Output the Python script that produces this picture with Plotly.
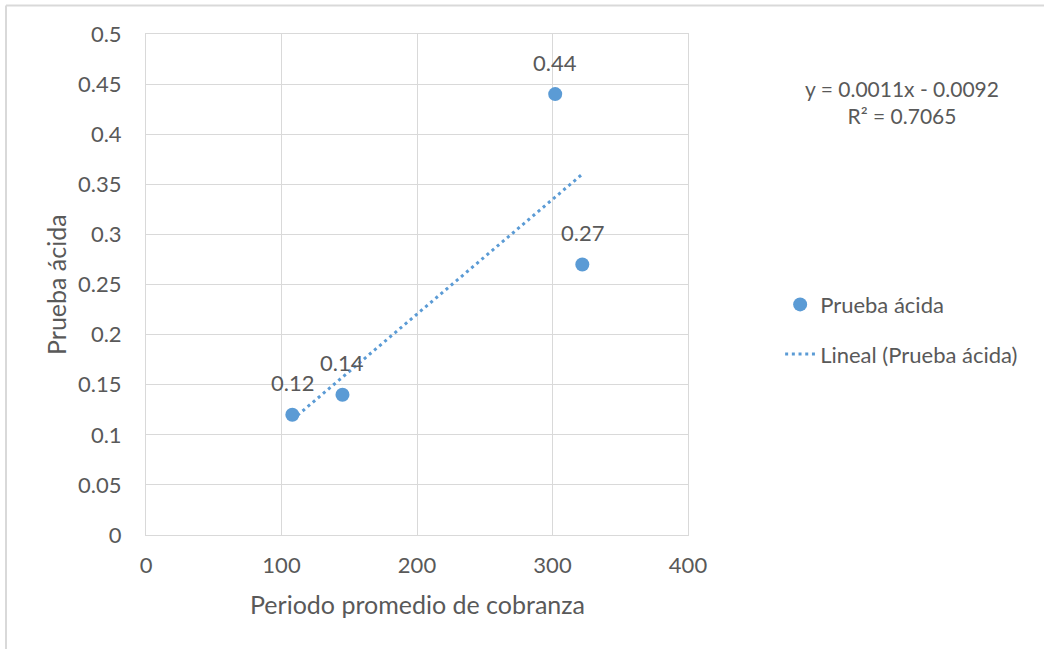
import numpy as np
import plotly.graph_objects as go

# Data: average collection period vs. acid-test ratio
periodo = [108, 145, 302, 322]
prueba_acida = [0.12, 0.14, 0.44, 0.27]
etiquetas = ["0.12", "0.14", "0.44", "0.27"]
x_ticks = [0, 100, 200, 300, 400]
y_ticks = [0, 0.05, 0.1, 0.15, 0.2, 0.25, 0.3, 0.35, 0.4, 0.45, 0.5]
ecuacion = "y = 0.0011x - 0.0092<br>R² = 0.7065"

BLUE = "#5B9BD5"
TEXT = "#595959"
GRID = "#D9D9D9"
FONT = "Lato"

# Linear trendline fitted over the data range
pend, inter = np.polyfit(periodo, prueba_acida, 1)
x_fit = np.array([min(periodo), max(periodo)])
y_fit = pend * x_fit + inter

fig = go.Figure()
fig.add_trace(go.Scatter(
    x=periodo, y=prueba_acida, mode="markers", name="Prueba ácida",
    marker=dict(color=BLUE, size=14), legendgroup="a", cliponaxis=False,
))
fig.add_trace(go.Scatter(
    x=x_fit, y=y_fit, mode="lines", name="Lineal (Prueba ácida)",
    line=dict(color=BLUE, width=3, dash="3px,3.7px"), legendgroup="b",
))

# Value labels above each point
for xv, yv, t in zip(periodo, prueba_acida, etiquetas):
    fig.add_annotation(x=xv, y=yv, text=t, showarrow=False, yshift=32,
                       xanchor="center", yanchor="middle",
                       font=dict(family=FONT, size=22, color=TEXT))

# Trendline equation
fig.add_annotation(xref="paper", yref="paper", x=1.395, y=0.8633,
                   xanchor="center", yanchor="middle",
                   text=ecuacion, showarrow=False, align="center",
                   font=dict(family=FONT, size=21, color=TEXT))

# Axis titles
fig.add_annotation(xref="paper", yref="paper", x=0.5, y=-0.138,
                   xanchor="center", yanchor="middle",
                   text="Periodo promedio de cobranza", showarrow=False,
                   font=dict(family=FONT, size=25, color=TEXT))
fig.add_annotation(xref="paper", yref="paper", x=-0.167, y=0.5,
                   xanchor="center", yanchor="middle",
                   text="Prueba ácida", showarrow=False, textangle=-90,
                   font=dict(family=FONT, size=25, color=TEXT))

# Chart frame (left and top edges)
fig.add_shape(type="line", xref="paper", yref="paper",
              x0=-0.2583, x1=-0.2583, y0=1.0569, y1=-0.3,
              line=dict(color=GRID, width=2))
fig.add_shape(type="line", xref="paper", yref="paper",
              x0=-0.2583, x1=1.7, y0=1.0569, y1=1.0569,
              line=dict(color=GRID, width=2))

axis_common = dict(
    showgrid=True, gridcolor=GRID, gridwidth=1,
    showline=True, linecolor=GRID, linewidth=1, mirror=True,
    zeroline=False, ticks="",
    tickfont=dict(family=FONT, size=22, color=TEXT),
)

fig.update_xaxes(range=[0, 400], tickvals=x_ticks,
                 ticktext=[str(v) for v in x_ticks], ticklabelstandoff=11,
                 **axis_common)
fig.update_yaxes(range=[0, 0.5], tickvals=y_ticks,
                 ticktext=[f"{v:g}" for v in y_ticks], ticklabelstandoff=19,
                 **axis_common)

fig.update_layout(
    width=1044, height=649,
    margin=dict(l=146, r=356, t=34, b=114),
    paper_bgcolor="white", plot_bgcolor="white",
    font=dict(family=FONT, size=22, color=TEXT),
    showlegend=True,
    legend=dict(x=1.17, y=0.41, xanchor="left", yanchor="middle",
                tracegroupgap=18, font=dict(family=FONT, size=22, color=TEXT),
                bgcolor="rgba(0,0,0,0)"),
)

fig.write_html("out.html")
